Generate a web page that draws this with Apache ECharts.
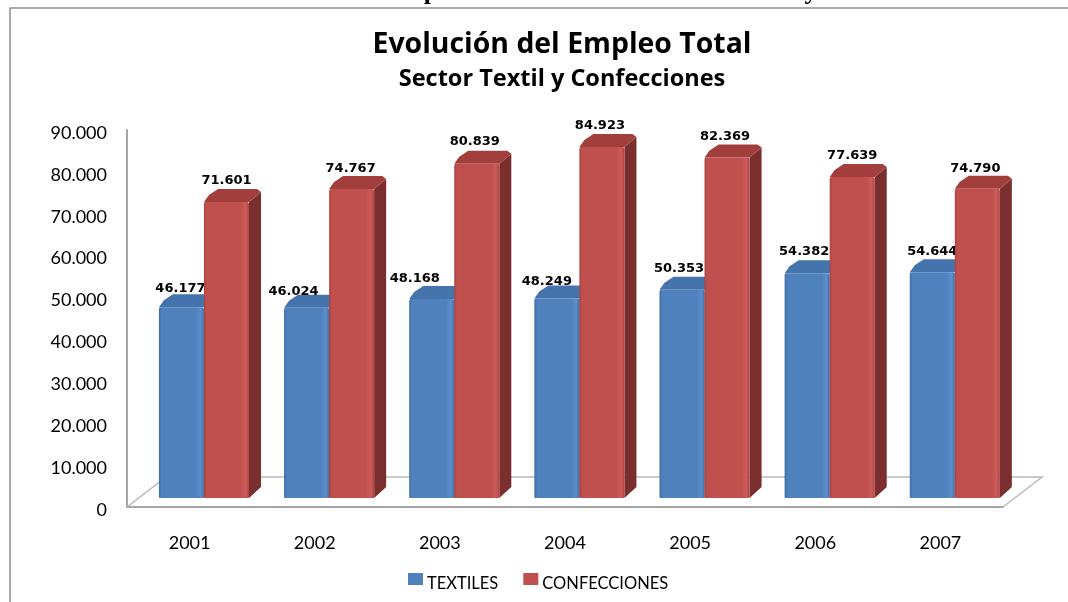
<!DOCTYPE html>
<html><head><meta charset="utf-8">
<style>html,body{margin:0;padding:0;background:#fff}#c{width:1068px;height:602px}</style>
<script src="https://cdn.jsdelivr.net/npm/echarts@6/dist/echarts.min.js"></script>
</head><body><div id="c"></div>
<script>
const categories = ['2001','2002','2003','2004','2005','2006','2007'];
const textiles = [46177,46024,48168,48249,50353,54382,54644];
const confecciones = [71601,74767,80839,84923,82369,77639,74790];
const textilesLabelShift = [-1,-13,-17,-10,-3,-3,0];
const confeccionesLabelShift = [0,-1,-2,-2,-2,0,-2];
const textilesLabelRise = [19,16,20,17,21,22,21];
const confeccionesLabelRise = [21,20,22,21,21,21,20];
const titleText = 'Evolución del Empleo Total';
const subtitleText = 'Sector Textil y Confecciones';

const SANS = 'Lato, "Open Sans", sans-serif';
const fmt = v => String(v).replace(/\B(?=(\d{3})+$)/g, '.');
const hGrad = stops => ({type:'linear',x:0,y:0,x2:1,y2:0,colorStops:stops.map(s=>({offset:s[0],color:s[1]}))});
const blueFront = hGrad([[0,'#3f6ea6'],[0.06,'#4f81bd'],[0.82,'#4f81bd'],[0.93,'#5b8fcc'],[1,'#3f6ea6']]);
const redFront = hGrad([[0,'#a84341'],[0.06,'#c0504d'],[0.82,'#c0504d'],[0.93,'#cd5c59'],[1,'#a84341']]);

function barRenderer(cfg){
  return function(params, api){
    const i = api.value(0), val = api.value(1);
    const top = api.coord([i,val]), base = api.coord([i,0]);
    const band = api.size([1,0])[0];
    const w = band*0.36, x = top[0]+band*cfg.offset, yt = top[1], yb = base[1];
    const dx = 12, dy = 11;
    return {type:'group',children:[
      {type:'polygon',shape:{points:[[x+w,yt],[x+w+dx,yt-dy+1],[x+w+dx,yb-dy],[x+w,yb]]},style:{fill:cfg.side}},
      {type:'polygon',shape:{points:[[x,yt],[x+5,yt-7],[x+14,yt-13],[x+w+8,yt-13],[x+w+dx,yt-dy+1],[x+w,yt]]},style:{fill:cfg.topFace}},
      {type:'rect',shape:{x:x,y:yt,width:w,height:yb-yt,r:[2,2,1,1]},style:{fill:cfg.front}},
      {type:'text',style:{text:fmt(val),x:x+w/2+cfg.shift[i],y:yt-cfg.rise[i],align:'center',verticalAlign:'middle',
        font:'bold 13px "DejaVu Sans", sans-serif',fill:'#000'},z2:10}
    ]};
  };
}
function floorRenderer(params, api){
  const c = params.coordSys;
  const x0=c.x, x1=c.x+c.width, y=c.y+c.height, dx=39, dy=30;
  return {type:'polyline',shape:{points:[[x0,y],[x0+dx,y-dy],[x1+dx,y-dy],[x1,y]]},style:{stroke:'#b9b9b9',lineWidth:1.5,fill:null}};
}

const chart = echarts.init(document.getElementById('c'),null,{renderer:'canvas'});
chart.setOption({
  animation:false,
  backgroundColor:'#fff',
  title:[
    {text:titleText,left:557,top:26,textAlign:'center',textStyle:{fontFamily:'"Open Sans", sans-serif',fontWeight:'bold',fontSize:28.4,color:'#000'}},
    {text:subtitleText,left:557,top:62,textAlign:'center',textStyle:{fontFamily:'"Open Sans", sans-serif',fontWeight:'bold',fontSize:23.5,color:'#000'}}
  ],
  legend:{left:408,top:573,padding:0,itemWidth:15,itemHeight:22,itemGap:25,icon:'path://M0 0H15V12H0ZM0 22L0.01 22',data:['TEXTILES','CONFECCIONES'],
    textStyle:{fontFamily:SANS,fontSize:16.5,color:'#000',padding:[0,0,0,-1]}},
  grid:[
    {left:127,top:130,width:876,height:377},
    {left:127,top:126,width:876,height:372},
    {left:127,top:133,width:876,height:377}
  ],
  xAxis:[
    {gridIndex:0,type:'category',data:categories,axisTick:{show:false},axisLine:{lineStyle:{color:'#a6a6a6',width:2}},
      axisLabel:{fontFamily:SANS,fontSize:18,color:'#000',margin:27}},
    {gridIndex:1,type:'category',data:categories,show:false},
    {gridIndex:2,type:'category',data:categories,show:false}
  ],
  yAxis:[
    {gridIndex:0,type:'value',min:0,max:90000,interval:10000,axisTick:{show:false},splitLine:{show:false},
      axisLine:{show:true,lineStyle:{color:'#a6a6a6',width:2}},axisLabel:{show:false}},
    {gridIndex:1,type:'value',min:0,max:90000,show:false,splitLine:{show:false}},
    {gridIndex:2,type:'value',min:0,max:90000,interval:10000,axisTick:{show:false},splitLine:{show:false},
      axisLine:{show:false},axisLabel:{fontFamily:SANS,fontSize:18,color:'#000',margin:20,formatter:fmt}}
  ],
  graphic:[
    {type:'polyline',shape:{points:[[10,602],[10,8],[1068,8]]},style:{stroke:'#8f8f8f',lineWidth:1.5,fill:null},silent:true},
    {type:'text',x:431,y:5,style:{text:'p',align:'center',verticalAlign:'bottom',font:'bold 26px "Liberation Serif", serif',fill:'#000'},silent:true},
    {type:'text',x:811,y:5,style:{text:'y',align:'center',verticalAlign:'bottom',font:'bold 26px "Liberation Serif", serif',fill:'#000'},silent:true}
  ],
  series:[
    {name:'floor',type:'custom',xAxisIndex:0,yAxisIndex:0,z:1,silent:true,data:[[0,0]],renderItem:floorRenderer,tooltip:{show:false}},
    {name:'TEXTILES',type:'custom',xAxisIndex:1,yAxisIndex:1,z:2,itemStyle:{color:'#4f81bd'},encode:{x:0,y:1},
      data:textiles.map((v,i)=>[i,v]),
      renderItem:barRenderer({offset:-0.245,front:blueFront,side:'#385d8a',topFace:'#4573ab',shift:textilesLabelShift,rise:textilesLabelRise})},
    {name:'CONFECCIONES',type:'custom',xAxisIndex:1,yAxisIndex:1,z:3,itemStyle:{color:'#c0504d'},encode:{x:0,y:1},
      data:confecciones.map((v,i)=>[i,v]),
      renderItem:barRenderer({offset:0.115,front:redFront,side:'#7a2f2e',topFace:'#a23f3d',shift:confeccionesLabelShift,rise:confeccionesLabelRise})}
  ]
});
</script></body></html>
